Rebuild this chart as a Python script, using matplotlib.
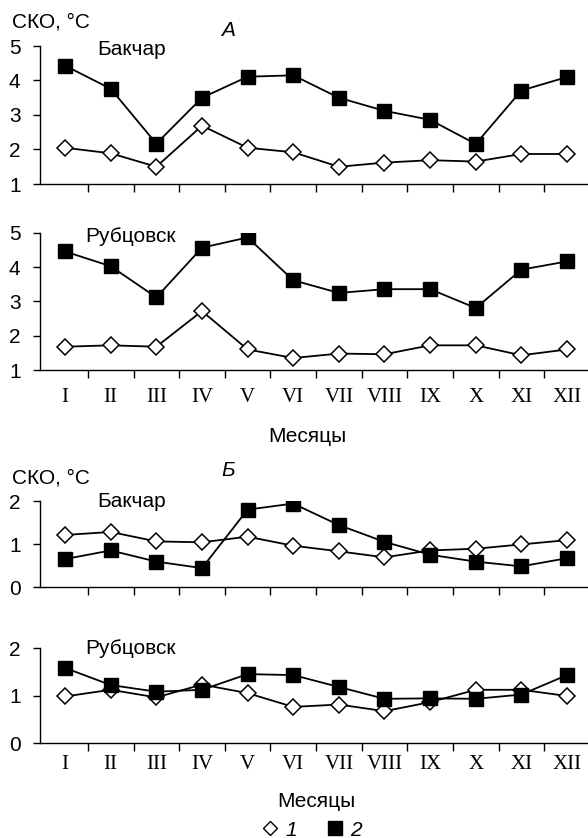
import matplotlib

matplotlib.use("Agg")
import matplotlib.pyplot as plt
from matplotlib.lines import Line2D

months = ["I", "II", "III", "IV", "V", "VI", "VII", "VIII", "IX", "X", "XI", "XII"]

# panel A (1 - diamonds, 2 - squares)
a_bakchar_1 = [2.05, 1.89, 1.50, 2.69, 2.05, 1.92, 1.50, 1.62, 1.69, 1.65, 1.87, 1.87]
a_bakchar_2 = [4.43, 3.76, 2.17, 3.50, 4.11, 4.15, 3.50, 3.12, 2.86, 2.16, 3.71, 4.10]
a_rubtsovsk_1 = [1.68, 1.72, 1.68, 2.72, 1.60, 1.35, 1.48, 1.46, 1.72, 1.72, 1.43, 1.60]
a_rubtsovsk_2 = [4.46, 4.03, 3.12, 4.57, 4.87, 3.62, 3.25, 3.36, 3.36, 2.81, 3.93, 4.17]

# panel B
b_bakchar_1 = [1.21, 1.28, 1.06, 1.04, 1.17, 0.96, 0.83, 0.69, 0.85, 0.89, 0.99, 1.09]
b_bakchar_2 = [0.65, 0.85, 0.59, 0.44, 1.80, 1.94, 1.44, 1.05, 0.75, 0.59, 0.48, 0.67]
b_rubtsovsk_1 = [0.98, 1.12, 0.96, 1.23, 1.05, 0.76, 0.81, 0.67, 0.86, 1.12, 1.12, 0.99]
b_rubtsovsk_2 = [1.58, 1.22, 1.08, 1.12, 1.45, 1.43, 1.18, 0.93, 0.94, 0.93, 1.02, 1.43]

SANS = "Liberation Sans"
SERIF = "Liberation Serif"
FS = 15

fig = plt.figure(figsize=(5.88, 8.38), dpi=100)
W, H = 588, 838


def make_ax(top_px, bottom_px):
    left = 40 / W
    return fig.add_axes([left, 1 - bottom_px / H, 1 - left, (bottom_px - top_px) / H])


def draw_panel(ax, s1, s2, ylim, yticks, city, city_x, city_y, show_months):
    x = list(range(len(months)))
    ax.plot(x, s1, color="black", lw=1.3, marker="D", ms=8.5, mfc="white",
            mec="black", mew=1.1, zorder=3)
    ax.plot(x, s2, color="black", lw=1.3, marker="s", ms=9.5, mfc="black",
            mec="black", zorder=4)
    ax.set_xlim(-0.55, 11.46)
    ax.set_ylim(*ylim)
    ax.spines["top"].set_visible(False)
    ax.spines["right"].set_visible(False)
    ax.spines["left"].set_linewidth(1.0)
    ax.spines["bottom"].set_linewidth(1.0)
    ax.set_xticks([i + 0.5 for i in range(11)])
    ax.set_xticklabels([])
    ax.tick_params(axis="x", direction="out", length=6, width=1.0)
    ax.set_yticks(yticks)
    ax.set_yticklabels([str(t) for t in yticks], fontfamily=SANS, fontsize=FS)
    ax.tick_params(axis="y", direction="out", length=5, width=1.0, pad=9)
    ax.text(city_x, city_y, city, transform=ax.transAxes, fontfamily=SANS,
            fontsize=FS, va="center", ha="left")
    if show_months:
        for i, m in enumerate(months):
            ax.text(i, -0.13, m, transform=ax.get_xaxis_transform(),
                    fontfamily=SERIF, fontsize=FS, ha="center", va="top")


ax1 = make_ax(46, 184)
draw_panel(ax1, a_bakchar_1, a_bakchar_2, (1, 5), [1, 2, 3, 4, 5],
           "Бакчар", 0.104, 0.975, False)
ax2 = make_ax(233, 370)
draw_panel(ax2, a_rubtsovsk_1, a_rubtsovsk_2, (1, 5), [1, 2, 3, 4, 5],
           "Рубцовск", 0.082, 0.975, True)
ax3 = make_ax(501, 587)
draw_panel(ax3, b_bakchar_1, b_bakchar_2, (0, 2), [0, 1, 2],
           "Бакчар", 0.104, 0.99, False)
ax4 = make_ax(648, 743)
draw_panel(ax4, b_rubtsovsk_1, b_rubtsovsk_2, (0, 2), [0, 1, 2],
           "Рубцовск", 0.082, 0.99, True)

# titles and axis labels
fig.text(12 / W, 1 - 22 / H, "СКО, °С", fontfamily=SANS, fontsize=FS, va="center")
fig.text(228 / W, 1 - 30 / H, "А", fontfamily=SANS, fontsize=FS, style="italic",
         ha="center", va="center")
fig.text(12 / W, 1 - 478 / H, "СКО, °С", fontfamily=SANS, fontsize=FS, va="center")
fig.text(228 / W, 1 - 470 / H, "Б", fontfamily=SANS, fontsize=FS, style="italic",
         ha="center", va="center")
fig.text(307 / W, 1 - 436 / H, "Месяцы", fontfamily=SANS, fontsize=FS,
         ha="center", va="center")
fig.text(316 / W, 1 - 801 / H, "Месяцы", fontfamily=SANS, fontsize=FS,
         ha="center", va="center")

# legend
handles = [
    Line2D([], [], ls="none", marker="D", ms=7, mfc="white", mec="black", mew=1.0),
    Line2D([], [], ls="none", marker="s", ms=10.5, mfc="black", mec="black"),
]
fig.legend(handles, ["1", "2"], loc="center", bbox_to_anchor=(312 / W, 1 - 830 / H),
           ncol=2, frameon=False, handlelength=0.8, handletextpad=0.35,
           columnspacing=1.4, borderpad=0,
           prop={"family": SANS, "size": FS, "style": "italic"})

fig.savefig("out.png", dpi=100)
